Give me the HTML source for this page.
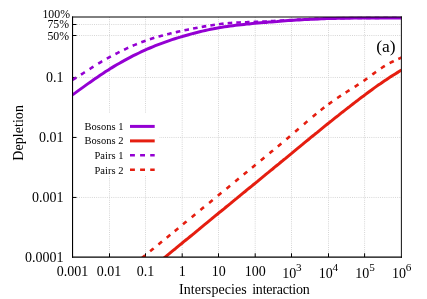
<!DOCTYPE html>
<html><head><meta charset="utf-8"><style>
html,body{margin:0;padding:0;background:#fff;}
svg{display:block;font-family:"Liberation Serif",serif;will-change:transform;}
</style></head><body>
<svg width="427" height="299" viewBox="0 0 427 299">
<rect width="427" height="299" fill="#fff"/>
<defs><clipPath id="c"><rect x="72.5" y="16.5" width="329.0" height="240.5"/></clipPath></defs>
<g stroke="#d6d6d6" stroke-width="1" stroke-dasharray="1 1.15" fill="none">
<line x1="109.50" y1="17.0" x2="109.50" y2="257.0"/>
<line x1="145.50" y1="17.0" x2="145.50" y2="257.0"/>
<line x1="182.20" y1="17.0" x2="182.20" y2="257.0"/>
<line x1="218.50" y1="17.0" x2="218.50" y2="257.0"/>
<line x1="255.20" y1="17.0" x2="255.20" y2="257.0"/>
<line x1="291.50" y1="17.0" x2="291.50" y2="257.0"/>
<line x1="328.50" y1="17.0" x2="328.50" y2="257.0"/>
<line x1="364.60" y1="17.0" x2="364.60" y2="257.0"/>
<line x1="72.5" y1="77.45" x2="401.5" y2="77.45"/>
<line x1="72.5" y1="137.45" x2="401.5" y2="137.45"/>
<line x1="72.5" y1="197.45" x2="401.5" y2="197.45"/>
<line x1="72.5" y1="24.50" x2="401.5" y2="24.50"/>
<line x1="72.5" y1="35.50" x2="401.5" y2="35.50"/>
</g>
<rect x="77.5" y="113" width="81.5" height="63" fill="#fff"/>
<g stroke="#000" stroke-width="1" fill="none">
<line x1="109.50" y1="257.0" x2="109.50" y2="253.3"/>
<line x1="145.50" y1="257.0" x2="145.50" y2="253.3"/>
<line x1="182.20" y1="257.0" x2="182.20" y2="253.3"/>
<line x1="218.50" y1="257.0" x2="218.50" y2="253.3"/>
<line x1="255.20" y1="257.0" x2="255.20" y2="253.3"/>
<line x1="291.50" y1="257.0" x2="291.50" y2="253.3"/>
<line x1="328.50" y1="257.0" x2="328.50" y2="253.3"/>
<line x1="364.60" y1="257.0" x2="364.60" y2="253.3"/>
<line x1="72.5" y1="77.45" x2="76.5" y2="77.45"/>
<line x1="72.5" y1="137.45" x2="76.5" y2="137.45"/>
<line x1="72.5" y1="197.45" x2="76.5" y2="197.45"/>
<line x1="72.5" y1="24.50" x2="76.5" y2="24.50"/>
<line x1="72.5" y1="35.50" x2="76.5" y2="35.50"/>
</g>
<g clip-path="url(#c)" fill="none" stroke-width="3" stroke-linejoin="round">
<path d="M72.5,94.9 L75.3,92.9 L78.0,90.9 L80.8,88.9 L83.6,86.9 L86.3,84.9 L89.1,82.9 L91.9,81.0 L94.6,79.1 L97.4,77.2 L100.1,75.3 L102.9,73.5 L105.7,71.6 L108.4,69.9 L111.2,68.1 L114.0,66.4 L116.7,64.8 L119.5,63.2 L122.3,61.6 L125.0,60.1 L127.8,58.6 L130.6,57.1 L133.3,55.7 L136.1,54.3 L138.9,53.0 L141.6,51.7 L144.4,50.4 L147.1,49.2 L149.9,48.0 L152.7,46.8 L155.4,45.7 L158.2,44.6 L161.0,43.6 L163.7,42.6 L166.5,41.6 L169.3,40.6 L172.0,39.7 L174.8,38.8 L177.6,37.9 L180.3,37.1 L183.1,36.3 L185.9,35.5 L188.6,34.7 L191.4,33.9 L194.1,33.2 L196.9,32.5 L199.7,31.8 L202.4,31.1 L205.2,30.5 L208.0,29.9 L210.7,29.3 L213.5,28.8 L216.3,28.2 L219.0,27.7 L221.8,27.3 L224.6,26.8 L227.3,26.4 L230.1,26.1 L232.9,25.7 L235.6,25.3 L238.4,25.0 L241.1,24.7 L243.9,24.4 L246.7,24.1 L249.4,23.9 L252.2,23.6 L255.0,23.3 L257.7,23.1 L260.5,22.8 L263.3,22.6 L266.0,22.4 L268.8,22.1 L271.6,21.9 L274.3,21.7 L277.1,21.5 L279.9,21.2 L282.6,21.0 L285.4,20.8 L288.1,20.6 L290.9,20.5 L293.7,20.3 L296.4,20.1 L299.2,19.9 L302.0,19.8 L304.7,19.6 L307.5,19.5 L310.3,19.3 L313.0,19.2 L315.8,19.1 L318.6,19.0 L321.3,18.8 L324.1,18.7 L326.9,18.6 L329.6,18.6 L332.4,18.5 L335.1,18.4 L337.9,18.3 L340.7,18.3 L343.4,18.2 L346.2,18.2 L349.0,18.2 L351.7,18.1 L354.5,18.1 L357.3,18.1 L360.0,18.0 L362.8,18.0 L365.6,18.0 L368.3,18.0 L371.1,18.0 L373.9,18.0 L376.6,17.9 L379.4,17.9 L382.1,17.9 L384.9,17.9 L387.7,17.9 L390.4,17.9 L393.2,17.9 L396.0,17.9 L398.7,17.9 L401.5,17.9" stroke="#9400d3"/>
<path d="M150.0,269.5 L152.1,267.7 L154.2,266.0 L156.3,264.3 L158.5,262.5 L160.6,260.8 L162.7,259.1 L164.8,257.3 L166.9,255.6 L169.0,253.9 L171.1,252.1 L173.2,250.4 L175.4,248.7 L177.5,246.9 L179.6,245.2 L181.7,243.5 L183.8,241.7 L185.9,240.0 L188.0,238.3 L190.2,236.5 L192.3,234.8 L194.4,233.1 L196.5,231.3 L198.6,229.6 L200.7,227.8 L202.8,226.1 L204.9,224.4 L207.1,222.6 L209.2,220.9 L211.3,219.2 L213.4,217.4 L215.5,215.7 L217.6,214.0 L219.7,212.2 L221.9,210.5 L224.0,208.8 L226.1,207.0 L228.2,205.3 L230.3,203.6 L232.4,201.8 L234.5,200.1 L236.7,198.4 L238.8,196.6 L240.9,194.9 L243.0,193.2 L245.1,191.5 L247.2,189.7 L249.3,188.0 L251.4,186.3 L253.6,184.5 L255.7,182.8 L257.8,181.1 L259.9,179.3 L262.0,177.6 L264.1,175.9 L266.2,174.1 L268.4,172.4 L270.5,170.7 L272.6,169.0 L274.7,167.2 L276.8,165.5 L278.9,163.8 L281.0,162.0 L283.1,160.3 L285.3,158.6 L287.4,156.8 L289.5,155.1 L291.6,153.4 L293.7,151.6 L295.8,149.9 L297.9,148.2 L300.1,146.4 L302.2,144.7 L304.3,142.9 L306.4,141.2 L308.5,139.5 L310.6,137.7 L312.7,136.0 L314.8,134.3 L317.0,132.6 L319.1,130.8 L321.2,129.1 L323.3,127.4 L325.4,125.7 L327.5,124.0 L329.6,122.3 L331.8,120.6 L333.9,118.9 L336.0,117.2 L338.1,115.6 L340.2,113.9 L342.3,112.2 L344.4,110.6 L346.6,108.9 L348.7,107.3 L350.8,105.6 L352.9,104.0 L355.0,102.4 L357.1,100.8 L359.2,99.1 L361.3,97.5 L363.5,96.0 L365.6,94.4 L367.7,92.8 L369.8,91.2 L371.9,89.7 L374.0,88.1 L376.1,86.6 L378.3,85.1 L380.4,83.7 L382.5,82.2 L384.6,80.8 L386.7,79.4 L388.8,78.0 L390.9,76.6 L393.0,75.3 L395.2,73.9 L397.3,72.6 L399.4,71.3 L401.5,70.0" stroke="#e51e10"/>
<path d="M72.44,79.94 L73.75,79.13 L75.05,78.33 L76.36,77.52 M80.96,74.65 L82.25,73.84 L83.55,73.02 L84.84,72.19 M89.62,69.11 L90.91,68.27 L92.19,67.44 L93.48,66.62 M98.23,63.62 L99.54,62.82 L100.86,62.02 L102.17,61.24 M106.83,58.56 L108.18,57.81 L109.52,57.08 L110.87,56.36 M115.44,53.99 L116.81,53.29 L118.19,52.61 L119.56,51.92 M124.07,49.72 L125.46,49.06 L126.84,48.41 L128.23,47.77 M132.68,45.78 L134.09,45.17 L135.51,44.58 L136.92,44.00 M141.29,42.28 L142.73,41.74 L144.17,41.22 L145.61,40.70 M149.91,39.24 L151.37,38.77 L152.83,38.31 L154.29,37.86 M158.53,36.61 L160.01,36.20 L161.49,35.79 L162.97,35.39 M167.17,34.31 L168.66,33.93 L170.14,33.57 L171.63,33.21 M175.81,32.23 L177.30,31.89 L178.80,31.55 L180.29,31.22 M184.45,30.32 L185.95,30.00 L187.45,29.69 L188.95,29.38 M193.09,28.54 L194.60,28.25 L196.10,27.96 L197.61,27.67 M201.73,26.91 L203.24,26.64 L204.76,26.38 L206.27,26.12 M210.38,25.45 L211.89,25.22 L213.41,24.99 L214.92,24.76 M219.02,24.20 L220.54,24.01 L222.06,23.83 L223.58,23.66 M227.66,23.25 L229.19,23.12 L230.71,23.00 L232.24,22.89 M236.30,22.64 L237.83,22.56 L239.37,22.49 L240.90,22.42 M244.95,22.26 L246.48,22.21 L248.02,22.16 L249.55,22.11 M253.60,21.97 L255.13,21.91 L256.67,21.85 L258.20,21.79 M262.25,21.61 L263.78,21.54 L265.32,21.46 L266.85,21.39 M270.90,21.17 L272.43,21.09 L273.97,21.00 L275.50,20.92 M279.55,20.69 L281.08,20.60 L282.62,20.51 L284.15,20.42 M288.20,20.20 L289.73,20.11 L291.27,20.03 L292.80,19.95 M296.85,19.74 L298.38,19.66 L299.92,19.59 L301.45,19.51 M305.50,19.33 L307.03,19.26 L308.57,19.20 L310.10,19.13 M314.15,18.97 L315.68,18.91 L317.22,18.86 L318.75,18.80 M322.80,18.67 L324.33,18.62 L325.87,18.57 L327.40,18.53 M331.45,18.42 L332.98,18.38 L334.52,18.34 L336.05,18.31 M340.10,18.22 L341.63,18.19 L343.17,18.17 L344.70,18.14 M348.75,18.07 L350.28,18.05 L351.82,18.03 L353.35,18.01 M357.40,17.97 L358.93,17.95 L360.47,17.94 L362.00,17.92 M366.05,17.89 L367.58,17.88 L369.12,17.87 L370.65,17.86 M374.70,17.84 L376.23,17.84 L377.77,17.83 L379.30,17.83 M383.35,17.82 L384.88,17.82 L386.42,17.81 L387.95,17.81 M392.00,17.81 L393.53,17.80 L395.07,17.80 L396.60,17.80 M400.65,17.80 L402.18,17.80 L403.72,17.80 L405.25,17.80" stroke="#9400d3" stroke-width="2.6"/>
<path d="M141.62,258.30 L142.81,257.32 L143.99,256.35 L145.18,255.38 M150.12,251.32 L151.31,250.35 L152.49,249.37 L153.68,248.40 M158.42,244.50 L159.61,243.53 L160.79,242.56 L161.98,241.59 M166.72,237.69 L167.91,236.72 L169.09,235.74 L170.28,234.77 M174.72,231.12 L175.91,230.15 L177.09,229.18 L178.28,228.20 M183.02,224.31 L184.21,223.34 L185.39,222.37 L186.58,221.39 M191.72,217.17 L192.91,216.20 L194.09,215.23 L195.28,214.25 M200.42,210.03 L201.61,209.06 L202.79,208.09 L203.98,207.12 M209.12,202.90 L210.31,201.93 L211.49,200.96 L212.68,199.98 M217.82,195.77 L219.01,194.80 L220.19,193.83 L221.38,192.86 M226.52,188.64 L227.71,187.67 L228.89,186.70 L230.08,185.73 M235.22,181.52 L236.41,180.54 L237.59,179.57 L238.78,178.60 M243.72,174.55 L244.91,173.58 L246.09,172.61 L247.28,171.63 M252.02,167.74 L253.21,166.77 L254.39,165.80 L255.58,164.82 M260.82,160.51 L262.01,159.53 L263.19,158.56 L264.38,157.58 M269.53,153.32 L270.71,152.35 L271.89,151.37 L273.07,150.39 M277.84,146.41 L279.01,145.43 L280.19,144.44 L281.36,143.46 M286.45,139.16 L287.62,138.17 L288.78,137.18 L289.95,136.18 M295.16,131.71 L296.32,130.71 L297.48,129.71 L298.64,128.71 M303.95,124.14 L305.12,123.14 L306.28,122.14 L307.45,121.15 M312.73,116.70 L313.91,115.71 L315.09,114.74 L316.27,113.77 M320.69,110.21 L321.90,109.26 L323.10,108.31 L324.31,107.38 M328.43,104.27 L329.68,103.37 L330.92,102.47 L332.17,101.58 M337.19,98.11 L338.46,97.26 L339.74,96.41 L341.01,95.57 M345.66,92.56 L346.95,91.73 L348.25,90.91 L349.54,90.09 M354.66,86.86 L355.95,86.04 L357.25,85.21 L358.54,84.37 M363.53,81.03 L364.78,80.16 L366.02,79.27 L367.27,78.36 M372.36,74.58 L373.59,73.66 L374.81,72.74 L376.04,71.84 M380.97,68.34 L382.26,67.48 L383.54,66.65 L384.83,65.85 M389.64,63.14 L391.01,62.44 L392.39,61.75 L393.76,61.09 M398.29,59.01 L399.70,58.39 L401.10,57.77 L402.51,57.16" stroke="#e51e10" stroke-width="2.6"/>
</g>
<g font-size="10.5" fill="#000" text-anchor="end">
<text x="123.4" y="129.8">Bosons 1</text>
<text x="123.4" y="144.3">Bosons 2</text>
<text x="123.4" y="158.8">Pairs 1</text>
<text x="123.4" y="173.7">Pairs 2</text>
</g>
<g fill="none">
<line x1="130" y1="126.4" x2="154.7" y2="126.4" stroke="#9400d3" stroke-width="3"/>
<line x1="130" y1="140.9" x2="154.7" y2="140.9" stroke="#e51e10" stroke-width="3"/>
<line x1="130" y1="155.3" x2="154.7" y2="155.3" stroke="#9400d3" stroke-width="2.4" stroke-dasharray="4.9 5.2"/>
<line x1="130" y1="169.8" x2="154.7" y2="169.8" stroke="#e51e10" stroke-width="2.4" stroke-dasharray="4.9 5.2"/>
</g>
<g stroke="#000" fill="none">
<line x1="72.55" y1="16.5" x2="72.55" y2="257.7" stroke-width="1.1"/>
<line x1="401.4" y1="16.5" x2="401.4" y2="257.7" stroke-width="1.05" stroke="#1a1a1a"/>
<line x1="72" y1="17" x2="402" y2="17" stroke-width="1"/>
<line x1="72" y1="257.05" x2="402" y2="257.05" stroke-width="1.25"/>
</g>
<g font-size="14" fill="#000">
<text x="72.50" y="276.3" text-anchor="middle">0.001</text>
<text x="109.06" y="276.3" text-anchor="middle">0.01</text>
<text x="145.61" y="276.3" text-anchor="middle">0.1</text>
<text x="182.17" y="276.3" text-anchor="middle">1</text>
<text x="218.72" y="276.3" text-anchor="middle">10</text>
<text x="255.28" y="276.3" text-anchor="middle">100</text>
<text x="282.23" y="278.2">10<tspan font-size="11.2" dy="-7.1" dx="-0.2">3</tspan></text>
<text x="318.79" y="278.2">10<tspan font-size="11.2" dy="-7.1" dx="-0.2">4</tspan></text>
<text x="355.34" y="278.2">10<tspan font-size="11.2" dy="-7.1" dx="-0.2">5</tspan></text>
<text x="391.90" y="278.2">10<tspan font-size="11.2" dy="-7.1" dx="-0.2">6</tspan></text>
<text x="63.6" y="82.40" text-anchor="end">0.1</text>
<text x="63.6" y="142.40" text-anchor="end">0.01</text>
<text x="63.6" y="202.40" text-anchor="end">0.001</text>
<text x="63.6" y="262.40" text-anchor="end">0.0001</text>
<text x="179" y="293.5" textLength="67.8" lengthAdjust="spacing">Interspecies</text>
<text x="252.2" y="293.5" textLength="57.6" lengthAdjust="spacing">interaction</text>
<text transform="translate(22.5,160.7) rotate(-90)" textLength="55.6" lengthAdjust="spacing">Depletion</text>
<text x="376.2" y="52.0" font-size="17.5">(a)</text>
</g>
<g font-size="11.8" fill="#000" text-anchor="end">
<text x="70" y="17.7">100%</text>
<text x="69.1" y="27.7">75%</text>
<text x="69.1" y="39.8">50%</text>
</g>
</svg>
</body></html>
